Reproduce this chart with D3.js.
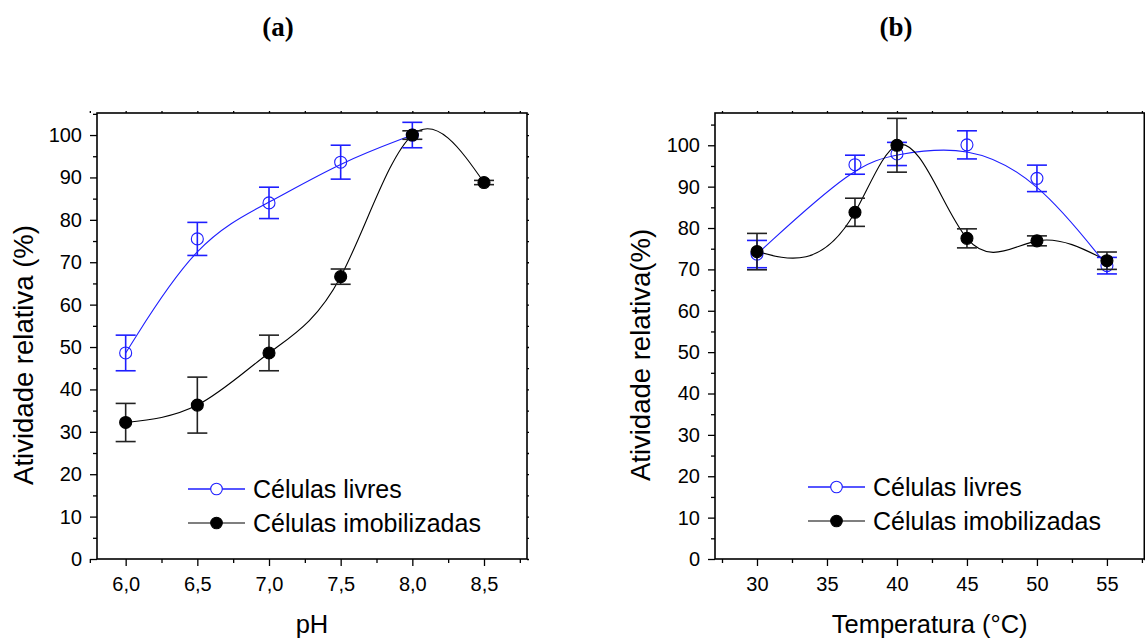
<!DOCTYPE html>
<html>
<head>
<meta charset="utf-8">
<script src="https://cdn.jsdelivr.net/npm/d3@7"></script>
<style>
  body { margin: 0; background: #fff; }
  svg { display: block; }
  text { font-family: "Liberation Sans", Arial, sans-serif; fill: #000; }
</style>
</head>
<body>
<svg id="chart" width="1145" height="641"></svg>
<script>
// Panel (a): pH
const phValues = [6.0, 6.5, 7.0, 7.5, 8.0, 8.5];
const phLivres = [48.6, 75.5, 84.0, 93.6, 100.0, null];
const phLivresErr = [4.2, 3.9, 3.7, 4.0, 3.0, null];
const phImob = [32.2, 36.3, 48.6, 66.6, 100.0, 88.8];
const phImobErr = [4.5, 6.6, 4.2, 1.8, 1.0, 0.5];
const phTicks = [6.0, 6.5, 7.0, 7.5, 8.0, 8.5];

// Panel (b): temperatura
const tempValues = [30, 37, 40, 45, 50, 55];
const tempLivres = [73.7, 95.3, 97.9, 100.1, 92.0, 70.9];
const tempLivresErr = [3.3, 2.3, 2.8, 3.4, 3.2, 2.0];
const tempImob = [74.3, 83.8, 100.0, 77.5, 76.9, 72.1];
const tempImobErr = [4.4, 3.4, 6.5, 2.3, 1.2, 2.1];
const tempTicks = [30, 35, 40, 45, 50, 55];

const yTicks = d3.range(0, 101, 10);
const seriesNames = ["Células livres", "Células imobilizadas"];
const blue = "#1e1eff";

const svg = d3.select("#chart");

// natural cubic spline of y as a function of x (like Origin's "Spline" connect)
function curveSplineX(context) {
  let xs, ys;
  return {
    areaStart() {}, areaEnd() {},
    lineStart() { xs = []; ys = []; },
    point(x, y) { xs.push(+x); ys.push(+y); },
    lineEnd() {
      const n = xs.length - 1;
      if (n < 1) return;
      context.moveTo(xs[0], ys[0]);
      if (n === 1) { context.lineTo(xs[1], ys[1]); return; }
      const h = d3.range(n).map(i => xs[i + 1] - xs[i]);
      // tridiagonal solve for second derivatives, M0 = Mn = 0
      const a = [], b = [], c = [], r = [];
      for (let i = 1; i < n; i++) {
        a.push(h[i - 1]); b.push(2 * (h[i - 1] + h[i])); c.push(h[i]);
        r.push(6 * ((ys[i + 1] - ys[i]) / h[i] - (ys[i] - ys[i - 1]) / h[i - 1]));
      }
      const m = n - 1;
      for (let i = 1; i < m; i++) {
        const w = a[i] / b[i - 1];
        b[i] -= w * c[i - 1];
        r[i] -= w * r[i - 1];
      }
      const inner = new Array(m);
      inner[m - 1] = r[m - 1] / b[m - 1];
      for (let i = m - 2; i >= 0; i--) inner[i] = (r[i] - c[i] * inner[i + 1]) / b[i];
      const M = [0].concat(inner, [0]);
      for (let i = 0; i < n; i++) {
        const s = (ys[i + 1] - ys[i]) / h[i];
        const m0 = s - h[i] * (2 * M[i] + M[i + 1]) / 6;
        const m1 = s + h[i] * (M[i] + 2 * M[i + 1]) / 6;
        context.bezierCurveTo(
          xs[i] + h[i] / 3, ys[i] + m0 * h[i] / 3,
          xs[i + 1] - h[i] / 3, ys[i + 1] - m1 * h[i] / 3,
          xs[i + 1], ys[i + 1]);
      }
    }
  };
}

function panel(opt) {
  const x = d3.scaleLinear().domain(opt.xDomain).range([opt.left, opt.right]);
  const y = d3.scaleLinear().domain(opt.yDomain).range([559, 113]);
  const g = svg.append("g");

  // minor ticks
  const minorX = opt.xTicks.map(t => t + opt.xStep / 2).concat([opt.xTicks[0] - opt.xStep / 2]);
  const minorY = d3.range(5, opt.yDomain[1], 10);

  g.append("g").attr("transform", "translate(0,559)")
    .call(d3.axisBottom(x).tickValues(minorX).tickSize(4).tickFormat(""));
  g.append("g").attr("transform", "translate(0,559)")
    .call(d3.axisBottom(x).tickValues(opt.xTicks).tickSize(7).tickPadding(11).tickFormat(opt.xFormat))
    .attr("font-size", 20);
  g.append("g").attr("transform", `translate(${opt.left},0)`)
    .call(d3.axisLeft(y).tickValues(minorY).tickSize(4).tickFormat(""));
  g.append("g").attr("transform", `translate(${opt.left},0)`)
    .call(d3.axisLeft(y).tickValues(yTicks).tickSize(7).tickPadding(8))
    .attr("font-size", 20);
  // top & right
  g.append("g").attr("transform", "translate(0,113)")
    .call(d3.axisTop(x).tickValues(opt.xTicks.concat(minorX)).tickSize(2).tickFormat(""));
  g.append("g").attr("transform", `translate(${opt.right},0)`)
    .call(d3.axisRight(y).tickValues(yTicks.concat(minorY)).tickSize(2).tickFormat(""));

  g.selectAll(".domain").remove();
  g.selectAll(".tick line").attr("stroke", "#000").attr("stroke-width", 1.3);
  g.selectAll(".tick text").attr("font-family", "Liberation Sans, Arial, sans-serif").attr("fill", "#000");

  g.append("rect")
    .attr("x", opt.left).attr("y", 113)
    .attr("width", opt.right - opt.left).attr("height", 559 - 113)
    .attr("fill", "none").attr("stroke", "#000").attr("stroke-width", 1.6);

  const series = [
    { vals: opt.livres, err: opt.livresErr, color: blue, errColor: blue, open: true, curve: d3.curveBasis },
    { vals: opt.imob, err: opt.imobErr, color: "#000", errColor: "#222", open: false, curve: curveSplineX }
  ];

  series.forEach(s => {
    const pts = opt.xVals.map((v, i) => [v, s.vals[i], s.err[i]]).filter(d => d[1] != null);
    const line = d3.line().x(d => x(d[0])).y(d => y(d[1])).curve(s.curve);
    g.append("path").datum(pts)
      .attr("d", line).attr("fill", "none")
      .attr("stroke", s.color).attr("stroke-width", 1.1);
  });

  series.forEach(s => {
    const pts = opt.xVals.map((v, i) => [v, s.vals[i], s.err[i]]).filter(d => d[1] != null);
    const eb = g.append("g").attr("stroke", s.errColor).attr("stroke-width", 1.6);
    eb.selectAll("line.v").data(pts).join("line")
      .attr("x1", d => x(d[0])).attr("x2", d => x(d[0]))
      .attr("y1", d => y(d[1] + d[2])).attr("y2", d => y(d[1] - d[2]));
    eb.selectAll("line.t").data(pts).join("line")
      .attr("x1", d => x(d[0]) - 10).attr("x2", d => x(d[0]) + 10)
      .attr("y1", d => y(d[1] + d[2])).attr("y2", d => y(d[1] + d[2]));
    eb.selectAll("line.b").data(pts).join("line")
      .attr("x1", d => x(d[0]) - 10).attr("x2", d => x(d[0]) + 10)
      .attr("y1", d => y(d[1] - d[2])).attr("y2", d => y(d[1] - d[2]));
    g.append("g").selectAll("circle").data(pts).join("circle")
      .attr("cx", d => x(d[0])).attr("cy", d => y(d[1]))
      .attr("r", 6)
      .attr("fill", s.open ? "none" : "#000")
      .attr("stroke", s.color).attr("stroke-width", 1.1);
  });

  // legend
  const lg = g.append("g");
  seriesNames.forEach((name, i) => {
    const ly = opt.legendY + i * 34;
    const s = series[i];
    lg.append("line")
      .attr("x1", opt.legendX).attr("x2", opt.legendX + 57)
      .attr("y1", ly).attr("y2", ly)
      .attr("stroke", i === 0 ? blue : "#555").attr("stroke-width", 1.3);
    lg.append("circle")
      .attr("cx", opt.legendX + 28.5).attr("cy", ly).attr("r", 5.8)
      .attr("fill", s.open ? "#fff" : "#000").attr("stroke", s.color).attr("stroke-width", 1.1);
    lg.append("text")
      .attr("x", opt.legendX + 65).attr("y", ly).attr("dy", "0.35em")
      .attr("font-size", 25).text(name);
  });

  // axis titles
  g.append("text")
    .attr("x", (opt.left + opt.right) / 2).attr("y", 633)
    .attr("text-anchor", "middle").attr("font-size", 25.5)
    .text(opt.xTitle);
  g.append("text")
    .attr("transform", `translate(${opt.yTitleX},355) rotate(-90)`)
    .attr("text-anchor", "middle").attr("font-size", 27.5)
    .text(opt.yTitle);

  svg.append("text")
    .attr("x", opt.labelX).attr("y", 36)
    .attr("text-anchor", "middle")
    .style("font-family", "'Liberation Serif', 'Times New Roman', serif")
    .attr("font-weight", "bold").attr("font-size", 27)
    .text(opt.label);
}

const commaFmt = d => d3.format(".1f")(d).replace(".", ",");

panel({
  left: 97, right: 527,
  xDomain: [5.8, 8.8], yDomain: [0, 105.2],
  xVals: phValues, xTicks: phTicks, xStep: 0.5, xFormat: commaFmt,
  livres: phLivres, livresErr: phLivresErr, imob: phImob, imobErr: phImobErr,
  legendX: 188, legendY: 489,
  xTitle: "pH", yTitle: "Atividade relativa (%)", yTitleX: 33,
  label: "(a)", labelX: 278
});

panel({
  left: 715, right: 1144.3,
  xDomain: [27, 57.67], yDomain: [0, 107.8],
  xVals: tempValues, xTicks: tempTicks, xStep: 5, xFormat: d3.format("d"),
  livres: tempLivres, livresErr: tempLivresErr, imob: tempImob, imobErr: tempImobErr,
  legendX: 808, legendY: 487,
  xTitle: "Temperatura (°C)", yTitle: "Atividade relativa(%)", yTitleX: 650,
  label: "(b)", labelX: 896
});
</script>
</body>
</html>
